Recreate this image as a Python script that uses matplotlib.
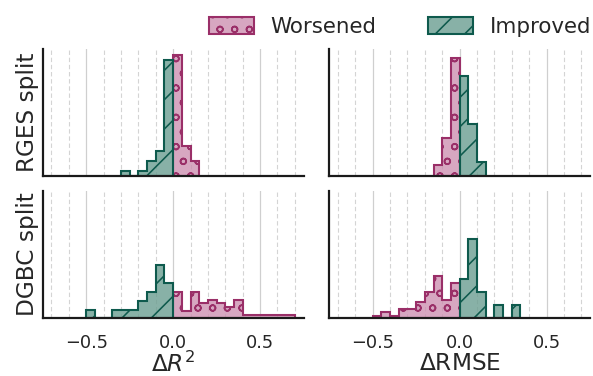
import numpy as np
import matplotlib.pyplot as plt
from matplotlib.ticker import MultipleLocator
from matplotlib.patches import Patch

# 히스토그램 값 (밀도, 구간 폭 0.05) - 그림에서 읽은 값
bin_width = 0.05

r2_rges_improved_start = -0.30
r2_rges_improved = [0.6, 0.0, 0.52, 1.83, 3.02, 14.0]
r2_rges_worsened_start = 0.00
r2_rges_worsened = [14.6, 3.6, 1.83]

rmse_rges_worsened_start = -0.15
rmse_rges_worsened = [1.23, 4.5, 14.3]
rmse_rges_improved_start = 0.00
rmse_rges_improved = [12.1, 6.3, 1.6]

r2_dgbc_improved_start = -0.50
r2_dgbc_improved = [0.93, 0.0, 0.0, 0.93, 0.93, 0.93, 2.0, 3.1, 6.4, 4.25]
r2_dgbc_worsened_start = 0.00
r2_dgbc_worsened = [3.16, 0.85, 3.16, 1.74, 2.15, 1.74, 1.34, 2.15,
                    0.35, 0.35, 0.35, 0.35, 0.35, 0.35]

rmse_dgbc_worsened_start = -0.50
rmse_dgbc_worsened = [0.2, 0.7, 0.2, 1.1, 1.1, 1.9, 3.1, 5.0, 2.2, 4.2]
rmse_dgbc_improved_start = 0.00
rmse_dgbc_improved = [4.7, 9.5, 3.1, 0.0, 1.54, 0.0, 1.54]

row_labels = ["RGES split", "DGBC split"]
col_labels = [r"$\Delta R^2$", r"$\Delta$RMSE"]
legend_labels = ["Worsened", "Improved"]

panels = [
    [(r2_rges_worsened_start, r2_rges_worsened, r2_rges_improved_start, r2_rges_improved),
     (rmse_rges_worsened_start, rmse_rges_worsened, rmse_rges_improved_start, rmse_rges_improved)],
    [(r2_dgbc_worsened_start, r2_dgbc_worsened, r2_dgbc_improved_start, r2_dgbc_improved),
     (rmse_dgbc_worsened_start, rmse_dgbc_worsened, rmse_dgbc_improved_start, rmse_dgbc_improved)],
]

# 스타일
worse_edge = "#9a2f68"
worse_face = (0.80, 0.56, 0.69, 0.78)
better_edge = "#0e5a4d"
better_face = (0.42, 0.62, 0.57, 0.80)
text_color = "#262626"

plt.rcParams["font.family"] = "DejaVu Sans"
plt.rcParams["hatch.linewidth"] = 1.3
plt.rcParams["text.color"] = text_color
plt.rcParams["axes.labelcolor"] = text_color


def draw_hist(ax, start, heights, face, edge, hatch):
    heights = np.asarray(heights, dtype=float)
    edges = start + bin_width * np.arange(len(heights) + 1)
    centers = (edges[:-1] + edges[1:]) / 2
    ax.hist(centers, bins=edges, weights=heights, histtype="stepfilled",
            facecolor=face, edgecolor=edge, hatch=hatch, linewidth=1.7, zorder=2)


dpi = 88
fig, axes = plt.subplots(2, 2, figsize=(593 / dpi, 376 / dpi), dpi=dpi,
                         sharey=True)
fig.subplots_adjust(left=0.072, right=0.995, bottom=0.155, top=0.869,
                    wspace=0.098, hspace=0.124)

for i in range(2):
    for j in range(2):
        ax = axes[i, j]
        ws, wv, bs, bv = panels[i][j]
        draw_hist(ax, ws, wv, worse_face, worse_edge, "o")
        draw_hist(ax, bs, bv, better_face, better_edge, "/")

        ax.set_xlim(-0.75, 0.75)
        ax.set_ylim(0, 15.3)
        ax.xaxis.set_major_locator(MultipleLocator(0.5))
        ax.xaxis.set_minor_locator(MultipleLocator(0.1))
        ax.grid(True, which="major", axis="x", color="#cfcfcf", linewidth=1.0, zorder=0)
        ax.grid(True, which="minor", axis="x", color="#d4d4d4", linewidth=0.9,
                linestyle=(0, (4, 2.5)), zorder=0)
        ax.set_axisbelow(True)
        ax.set_yticks([])
        ax.tick_params(axis="x", which="both", length=0, pad=13,
                       labelsize=14.5, labelcolor=text_color)
        for side in ["top", "right"]:
            ax.spines[side].set_visible(False)
        for side in ["left", "bottom"]:
            ax.spines[side].set_linewidth(1.8)
            ax.spines[side].set_color("#1a1a1a")
        if i == 0:
            ax.tick_params(axis="x", labelbottom=False)
        else:
            ax.set_xlabel(col_labels[j], fontsize=19, labelpad=0)
        if j == 0:
            ax.set_ylabel(row_labels[i], fontsize=19, labelpad=3)

handles = [
    Patch(facecolor=worse_face, edgecolor=worse_edge, hatch="o", linewidth=1.7),
    Patch(facecolor=better_face, edgecolor=better_edge, hatch="/", linewidth=1.7),
]
fig.legend(handles, legend_labels, loc="upper right", bbox_to_anchor=(1.03, 1.005),
           ncol=2, frameon=False, fontsize=17.5, handleheight=0.85,
           handlelength=2.1, columnspacing=2.4, handletextpad=0.8)

fig.savefig("out.png", dpi=dpi)
